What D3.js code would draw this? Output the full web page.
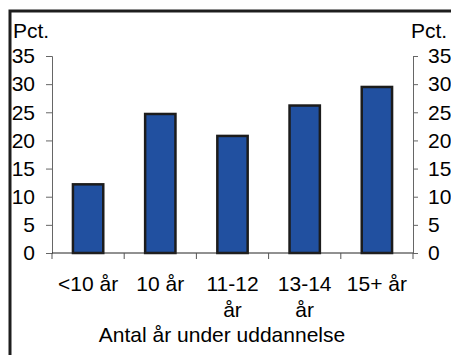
<!DOCTYPE html>
<html>
<head>
<meta charset="utf-8">
<script src="https://cdn.jsdelivr.net/npm/d3@7"></script>
<style>
  html, body { margin: 0; padding: 0; background: #fff; }
  svg { display: block; font-family: Arial, "Liberation Sans", sans-serif; }
</style>
</head>
<body>
<svg id="chart" width="451" height="355"></svg>
<script>
// Share (pct.) by years of education
const categories = ["<10 år", "10 år", "11-12 år", "13-14 år", "15+ år"];
const values = [12.2, 24.7, 20.8, 26.2, 29.5];
const yTicks = [0, 5, 10, 15, 20, 25, 30, 35];
const unitLabel = "Pct.";
const xTitle = "Antal år under uddannelse";

const svg = d3.select("#chart");
const fontSize = 21;

const plot = { left: 52, right: 413, top: 56, bottom: 253 };

const x = d3.scaleBand()
  .domain(categories)
  .range([plot.left, plot.right])
  .paddingInner(0.58)
  .paddingOuter(0.29);

const y = d3.scaleLinear()
  .domain([0, 35])
  .range([plot.bottom, plot.top]);

// Outer frame
svg.append("rect")
  .attr("x", 10).attr("y", 11)
  .attr("width", 600).attr("height", 600)
  .attr("fill", "none")
  .attr("stroke", "#1e1e1e")
  .attr("stroke-width", 3);

// Left value axis
const leftAxis = svg.append("g")
  .attr("transform", `translate(${plot.left},0)`)
  .call(d3.axisLeft(y).tickValues(yTicks).tickSize(6).tickPadding(11).tickFormat(d3.format("d")));

// Right value axis
const rightAxis = svg.append("g")
  .attr("transform", `translate(${plot.right},0)`)
  .call(d3.axisRight(y).tickValues(yTicks).tickSize(5).tickPadding(10).tickFormat(d3.format("d")));

[leftAxis, rightAxis].forEach(g => {
  g.select(".domain").attr("stroke", "#666").attr("stroke-width", 1);
  g.selectAll(".tick line").attr("stroke", "#666");
  g.selectAll("text")
    .attr("font-size", fontSize)
    .attr("font-family", "Arial, 'Liberation Sans', sans-serif")
    .attr("fill", "#000");
});

// Bars
svg.append("g")
  .selectAll("rect")
  .data(values)
  .join("rect")
  .attr("x", (d, i) => x(categories[i]))
  .attr("y", d => y(d))
  .attr("width", x.bandwidth())
  .attr("height", d => y(0) - y(d))
  .attr("fill", "#2150a0")
  .attr("stroke", "#1c1c1c")
  .attr("stroke-width", 2.5);

// Category axis with ticks between bands
const xAxis = svg.append("g")
  .attr("transform", `translate(0,${plot.bottom})`);
xAxis.append("line")
  .attr("x1", plot.left).attr("x2", plot.right)
  .attr("stroke", "#222").attr("stroke-width", 1);
const bounds = d3.range(categories.length + 1).map(i => plot.left + i * (plot.right - plot.left) / categories.length);
xAxis.selectAll(".bt")
  .data(bounds)
  .join("line")
  .attr("class", "bt")
  .attr("x1", d => d).attr("x2", d => d)
  .attr("y1", 0).attr("y2", 6)
  .attr("stroke", "#555");

// Category labels, wrapped to the band width
const bandW = (plot.right - plot.left) / categories.length;
const labels = xAxis.selectAll(".cl")
  .data(categories)
  .join("text")
  .attr("class", "cl")
  .attr("x", d => x(d) + x.bandwidth() / 2)
  .attr("y", 38)
  .attr("text-anchor", "middle")
  .attr("font-size", fontSize)
  .attr("fill", "#000");

labels.each(function(d) {
  const t = d3.select(this);
  const words = d.split(" ");
  let line = [];
  let tspan = t.append("tspan").attr("x", t.attr("x")).attr("dy", 0);
  words.forEach(w => {
    line.push(w);
    tspan.text(line.join(" "));
    if (tspan.node().getComputedTextLength() > bandW && line.length > 1) {
      line.pop();
      tspan.text(line.join(" "));
      line = [w];
      tspan = t.append("tspan").attr("x", t.attr("x")).attr("dy", 26).text(w);
    }
  });
});

// Axis title
svg.append("text")
  .attr("x", 222)
  .attr("y", 342)
  .attr("text-anchor", "middle")
  .attr("font-size", fontSize)
  .attr("fill", "#000")
  .text(xTitle);

// Unit labels above both axes
svg.append("text")
  .attr("x", 13).attr("y", 38)
  .attr("font-size", fontSize)
  .attr("fill", "#000")
  .text(unitLabel);
svg.append("text")
  .attr("x", 411).attr("y", 38)
  .attr("font-size", fontSize)
  .attr("fill", "#000")
  .text(unitLabel);
</script>
</body>
</html>
